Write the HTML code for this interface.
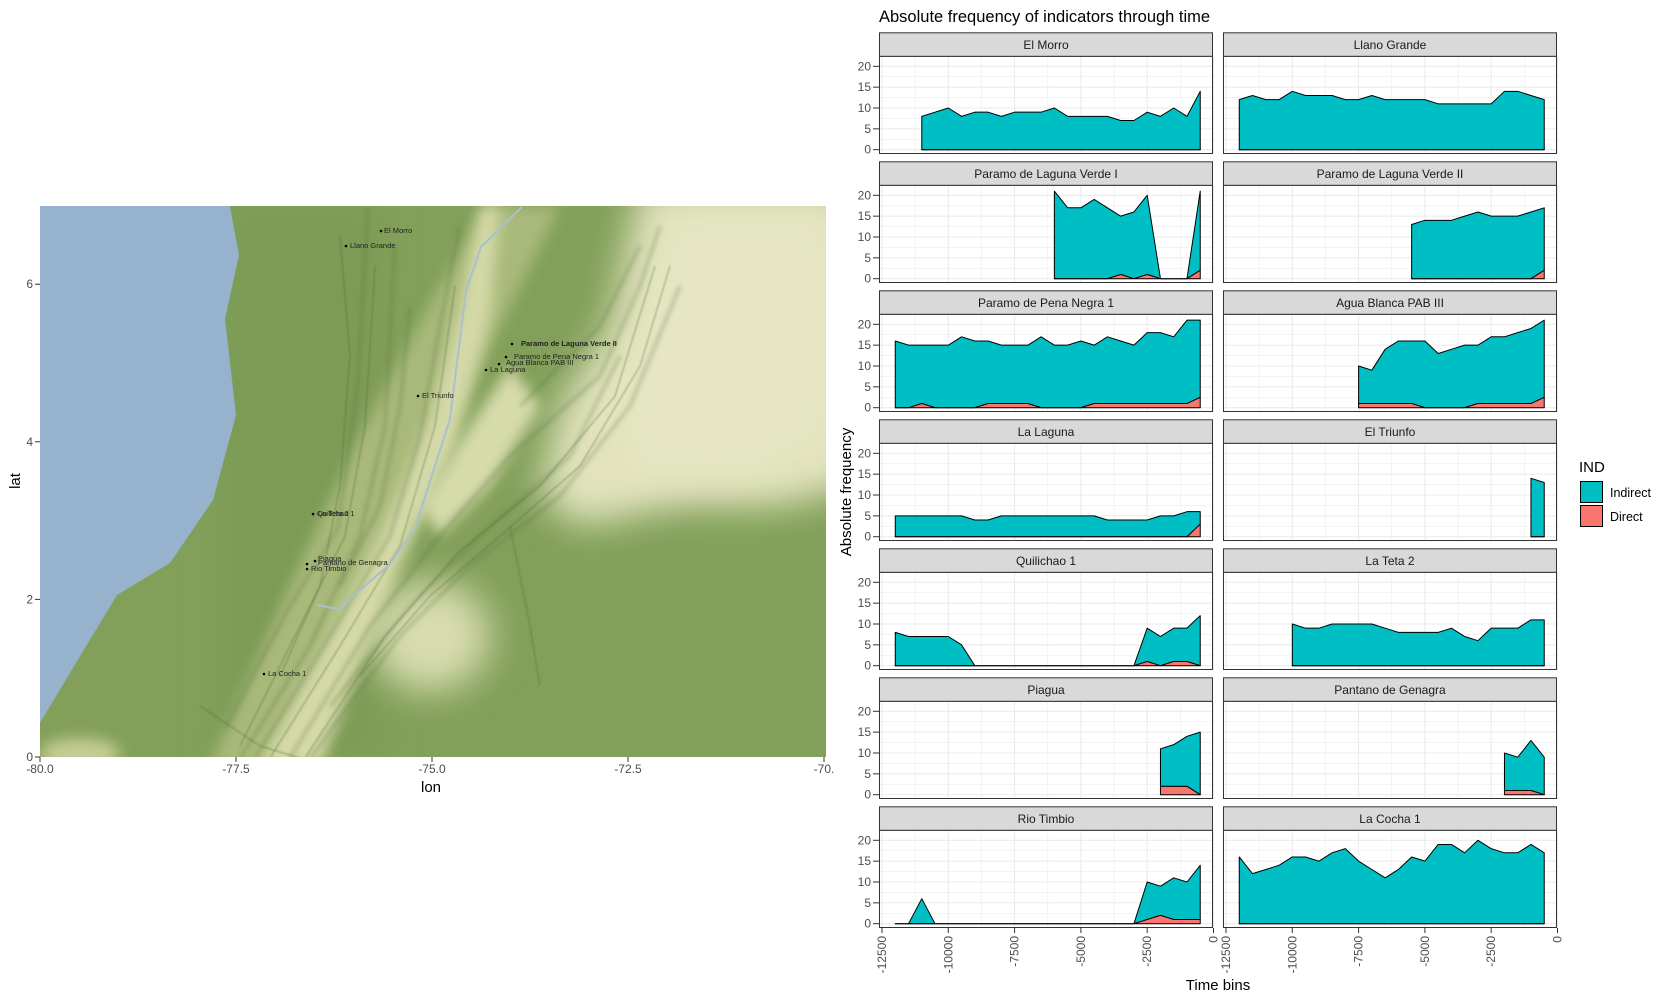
<!DOCTYPE html>
<html><head><meta charset="utf-8"><style>
html,body{margin:0;padding:0;background:#fff;}
svg{display:block;font-family:"Liberation Sans",Arial,sans-serif;}
</style></head><body>
<svg id="root" width="1665" height="1000" viewBox="0 0 1665 1000" xmlns="http://www.w3.org/2000/svg">
<defs>
<clipPath id="mapclip"><rect x="40" y="206" width="786" height="551"/></clipPath>
<filter id="b20" x="-50%" y="-50%" width="200%" height="200%"><feGaussianBlur stdDeviation="18"/></filter>
<filter id="b8" x="-50%" y="-50%" width="200%" height="200%"><feGaussianBlur stdDeviation="7"/></filter>
<filter id="b3" x="-50%" y="-50%" width="200%" height="200%"><feGaussianBlur stdDeviation="2"/></filter>
<filter id="b1"><feGaussianBlur stdDeviation="0.8"/></filter>
</defs>

<g>
<g clip-path="url(#mapclip)">
 <rect x="40" y="206" width="786" height="551" fill="#82a05a"/>
 <g transform="translate(40,206)">
  <rect x="180" y="0" width="160" height="552" fill="#7c9b55" filter="url(#b20)"/>
  <polygon points="600,-20 820,-20 820,280 740,300 640,300 540,320 500,290 520,200 570,120" fill="#e2e3bd" filter="url(#b20)"/>
  <polygon points="640,10 790,10 790,230 700,270 600,270 580,200" fill="#e6e6c4" filter="url(#b20)"/>
  <ellipse cx="390" cy="430" rx="60" ry="55" fill="#d8dcae" filter="url(#b20)"/>
  <ellipse cx="40" cy="548" rx="40" ry="16" fill="#c4cc94" filter="url(#b8)"/>
  <polygon points="170,560 250,380 320,230 400,80 450,0 520,0 460,120 390,270 310,430 250,560" fill="#a9b97a" filter="url(#b8)"/>
  <polygon points="220,560 290,430 345,320 390,210 420,100 440,0 460,0 450,110 415,240 360,360 280,560" fill="#d4d9a7" filter="url(#b8)"/>
  <polygon points="380,300 430,220 470,160 500,200 450,280 400,330" fill="#d6dbaa" filter="url(#b8)"/>
  <g stroke="#55703d" stroke-opacity="0.35" fill="none" filter="url(#b3)" stroke-width="3">
   <polyline points="185,523 250,400 298,322 318,176 328,1"/>
   <polyline points="215,552 290,430 350,330 380,230 400,120 420,20"/>
   <polyline points="250,552 330,420 400,330 470,250 560,170 600,80 620,20"/>
   <polyline points="270,552 360,430 430,360 520,290 590,200 640,80"/>
   <polyline points="300,380 340,300 360,200 370,100"/>
   <polyline points="480,200 560,120 600,40"/>
   <polyline points="200,552 270,440 320,330 345,220 355,40"/>
   <polyline points="290,500 370,400 450,320 530,250 580,150"/>
  </g>
  <g stroke="#4a6335" stroke-opacity="0.4" fill="none" filter="url(#b1)" stroke-width="1.3">
   <polyline points="200,540 260,420 305,330 325,220 335,60"/>
   <polyline points="230,552 300,440 360,340 395,220 415,80"/>
   <polyline points="265,552 345,430 420,345 500,280 575,190 615,60"/>
   <polyline points="240,470 280,380 300,280 310,150 300,30"/>
   <polyline points="320,470 390,390 460,330 540,260 600,160 630,60"/>
   <polyline points="470,320 490,420 500,480"/>
   <polyline points="160,500 220,540 260,552"/>
  </g>
  <polygon points="-10,-10 188,-10 199,49 185,113 196,209 173,294 130,357 77,389 45,442 0,517 -10,517" fill="#97b2cc"/>
  <polyline points="482,1 441,41 426,85 410,213 375,322 349,359 298,403 277,399" fill="none" stroke="#a9c1cf" stroke-width="2"/>
 </g>
 <g font-size="7.5" fill="#222">
  <circle cx="381" cy="231" r="1.3" fill="#000"/><text x="384" y="233">El Morro</text>
  <circle cx="346" cy="246" r="1.3" fill="#000"/><text x="350" y="248">Llano Grande</text>
  <circle cx="512" cy="344" r="1.3" fill="#000"/><text x="521" y="346" font-weight="bold">Paramo de Laguna Verde II</text>
  <circle cx="506" cy="357" r="1.3" fill="#000"/><text x="514" y="359">Paramo de Pena Negra 1</text>
  <circle cx="499" cy="364" r="1.3" fill="#000"/><text x="506" y="365">Agua Blanca PAB III</text>
  <circle cx="486" cy="370" r="1.3" fill="#000"/><text x="490" y="372">La Laguna</text>
  <circle cx="418" cy="396" r="1.3" fill="#000"/><text x="422" y="398">El Triunfo</text>
  <circle cx="313" cy="514" r="1.3" fill="#000"/><text x="317" y="516">Quilichao 1</text><text x="318" y="516">La Teta 2</text>
  <circle cx="315" cy="561" r="1.3" fill="#000"/><text x="318" y="561">Piagua</text><text x="318" y="565">Pantano de Genagra</text>
  <circle cx="307" cy="564" r="1.3" fill="#000"/>
  <circle cx="307" cy="569" r="1.3" fill="#000"/><text x="311" y="571">Rio Timbio</text>
  <circle cx="264" cy="674" r="1.3" fill="#000"/><text x="268" y="676">La Cocha 1</text>
 </g>
</g>
<g id="mapaxes" font-size="12" fill="#4d4d4d"></g>
<text x="431" y="792" font-size="15" text-anchor="middle" fill="#000">lon</text>
<text transform="translate(20,481) rotate(-90)" font-size="15" text-anchor="middle" fill="#000">lat</text>
</g>

<text x="879" y="22" font-size="16.5" fill="#000">Absolute frequency of indicators through time</text>
<g id="facets"></g>
<text transform="translate(851,492) rotate(-90)" font-size="15" text-anchor="middle" fill="#000">Absolute frequency</text>
<text x="1218" y="990" font-size="15" text-anchor="middle" fill="#000">Time bins</text>

<g>
 <text x="1579" y="472" font-size="15" fill="#000">IND</text>
 <g>
  <rect x="1580.5" y="481.5" width="22" height="21" fill="#00BFC4" stroke="#000" stroke-width="1"/>
  <text x="1610" y="497" font-size="12.5" fill="#000">Indirect</text>
 </g>
 <g>
  <rect x="1580.5" y="505.5" width="22" height="21" fill="#F8766D" stroke="#000" stroke-width="1"/>
  <text x="1610" y="521" font-size="12.5" fill="#000">Direct</text>
 </g>
</g>
</svg>
<script>
// ---- chart data ----
const siteNames = ["El Morro","Llano Grande","Paramo de Laguna Verde I","Paramo de Laguna Verde II","Paramo de Pena Negra 1","Agua Blanca PAB III","La Laguna","El Triunfo","Quilichao 1","La Teta 2","Piagua","Pantano de Genagra","Rio Timbio","La Cocha 1"];
const startBins = [-11000,-12000,-6000,-5500,-12000,-7500,-12000,-1000,-12000,-10000,-2000,-2000,-12000,-12000];
const binWidth = 500;
const totalCounts = [
 [8,9,10,8,9,9,8,9,9,9,10,8,8,8,8,7,7,9,8,10,8,14],
 [12,13,12,12,14,13,13,13,12,12,13,12,12,12,12,11,11,11,11,11,14,14,13,12],
 [21,17,17,19,17,15,16,20,0,0,0,21],
 [13,14,14,14,15,16,15,15,15,16,17],
 [16,15,15,15,15,17,16,16,15,15,15,17,15,15,16,15,17,16,15,18,18,17,21,21],
 [10,9,14,16,16,16,13,14,15,15,17,17,18,19,21],
 [5,5,5,5,5,5,4,4,5,5,5,5,5,5,5,5,4,4,4,4,5,5,6,6],
 [14,13],
 [8,7,7,7,7,5,0,0,0,0,0,0,0,0,0,0,0,0,0,9,7,9,9,12],
 [10,9,9,10,10,10,10,9,8,8,8,8,9,7,6,9,9,9,11,11],
 [11,12,14,15],
 [10,9,13,9],
 [0,0,6,0,0,0,0,0,0,0,0,0,0,0,0,0,0,0,0,10,9,11,10,14],
 [16,12,13,14,16,16,15,17,18,15,13,11,13,16,15,19,19,17,20,18,17,17,19,17]
];
const directCounts = [
 [0,0,0,0,0,0,0,0,0,0,0,0,0,0,0,0,0,0,0,0,0,0],
 [0,0,0,0,0,0,0,0,0,0,0,0,0,0,0,0,0,0,0,0,0,0,0,0],
 [0,0,0,0,0,1,0,1,0,0,0,2],
 [0,0,0,0,0,0,0,0,0,0,2],
 [0,0,1,0,0,0,0,1,1,1,1,0,0,0,0,1,1,1,1,1,1,1,1,2.5],
 [1,1,1,1,1,0,0,0,0,1,1,1,1,1,2.5],
 [0,0,0,0,0,0,0,0,0,0,0,0,0,0,0,0,0,0,0,0,0,0,0,3],
 [0,0],
 [0,0,0,0,0,0,0,0,0,0,0,0,0,0,0,0,0,0,0,1,0,1,1,0],
 [0,0,0,0,0,0,0,0,0,0,0,0,0,0,0,0,0,0,0,0],
 [2,2,2,0],
 [1,1,1,0],
 [0,0,0,0,0,0,0,0,0,0,0,0,0,0,0,0,0,0,0,1,2,1,1,1],
 [0,0,0,0,0,0,0,0,0,0,0,0,0,0,0,0,0,0,0,0,0,0,0,0]
];
const xTicks = [-12500,-10000,-7500,-5000,-2500,0];
const xTickLabels = ["-12500","-10000","-7500","-5000","-2500","0"];
const yTicks = [0,5,10,15,20];
const lonTicks = [-80,-77.5,-75,-72.5,-70];
const lonLabels = ["-80.0","-77.5","-75.0","-72.5","-70."];
const latTicks = [0,2,4,6];

const NS = "http://www.w3.org/2000/svg";
function mk(tag, attrs, parent){const e=document.createElementNS(NS,tag);for(const k in attrs)e.setAttribute(k,attrs[k]);parent.appendChild(e);return e;}

// map axes
const mapAxes=document.getElementById('mapaxes');
const lonX=v=>40+(v+80)*196/2.5;
const latY=v=>757-v*157.6/2;
lonTicks.forEach((v,i)=>{
  const t=mk('line',{x1:lonX(v),x2:lonX(v),y1:757,y2:762,stroke:'#333'},mapAxes);
  
  
  const tx=mk('text',{x:lonX(v),y:773,'text-anchor':'middle'},mapAxes);
  tx.textContent=lonLabels[i];
  
  
});
latTicks.forEach(v=>{
  const t=mk('line',{x1:35,x2:40,y1:latY(v),y2:latY(v),stroke:'#333'},mapAxes);
  
  
  const tx=mk('text',{x:33,y:latY(v)+4,'text-anchor':'end'},mapAxes);
  tx.textContent=String(v);
  
  
});

// facets
const facets=document.getElementById('facets');
const colLeft=[879,1223], panelW=334, rowPitch=129;
siteNames.forEach((name,i)=>{
  const r=Math.floor(i/2), c=i%2;
  const L=colLeft[c], stripTop=32.3+r*rowPitch, pTop=56.3+r*rowPitch, pBot=154+r*rowPitch;
  const xs=v=>L+3+(v+12500)*66.3/2500;
  const ys=v=>pBot-4.3-v*4.17;
  const g=mk('g',{},facets);
  
  
  mk('rect',{x:L,y:pTop,width:panelW,height:pBot-pTop,fill:'#fff'},g);
  for(let v=-12500;v<=0;v+=1250){
    const major=(v%2500===0);
    mk('line',{x1:xs(v),x2:xs(v),y1:pTop,y2:pBot,stroke:'#ebebeb','stroke-width':major?1.1:0.55},g);
  }
  for(let v=0;v<=22;v+=2.5){
    const major=(v%5===0);
    mk('line',{x1:L,x2:L+panelW,y1:ys(v),y2:ys(v),stroke:'#ebebeb','stroke-width':major?1.1:0.55},g);
  }
  const tot=totalCounts[i], dir=directCounts[i], s=startBins[i];
  const xv=k=>xs(s+k*binWidth);
  let pts=[];
  for(let k=0;k<tot.length;k++) pts.push(xv(k)+','+ys(tot[k]));
  for(let k=tot.length-1;k>=0;k--) pts.push(xv(k)+','+ys(dir[k]));
  const a=mk('polygon',{points:pts.join(' '),fill:'#00BFC4',stroke:'#000','stroke-width':1,'stroke-linejoin':'round'},g);
  
  
  let dp=[];
  for(let k=0;k<dir.length;k++) dp.push(xv(k)+','+ys(dir[k]));
  for(let k=dir.length-1;k>=0;k--) dp.push(xv(k)+','+ys(0));
  const d=mk('polygon',{points:dp.join(' '),fill:'#F8766D',stroke:'#000','stroke-width':1,'stroke-linejoin':'round'},g);
  
  
  mk('rect',{x:L+0.5,y:pTop,width:panelW-1,height:pBot-pTop-0.5,fill:'none',stroke:'#333','stroke-width':1},g);
  const st=mk('rect',{x:L+0.5,y:stripTop+0.5,width:panelW-1,height:pTop-stripTop-0.5,fill:'#d9d9d9',stroke:'#333','stroke-width':1},g);
  
  
  const stt=mk('text',{x:L+panelW/2,y:stripTop+16.5,'text-anchor':'middle','font-size':12,fill:'#1a1a1a'},g);
  stt.textContent=name;
  
  
  if(c===0){
    yTicks.forEach(v=>{
      mk('line',{x1:L-6,x2:L,y1:ys(v),y2:ys(v),stroke:'#333'},g);
      const t=mk('text',{x:L-8,y:ys(v)+4,'text-anchor':'end','font-size':12,fill:'#4d4d4d'},g);
      t.textContent=String(v);
      
      
    });
  }
  if(r===6){
    xTicks.forEach((v,j)=>{
      mk('line',{x1:xs(v),x2:xs(v),y1:pBot,y2:pBot+5,stroke:'#333'},g);
      const t=mk('text',{transform:'translate('+(xs(v)+4)+','+(pBot+8)+') rotate(-90)','text-anchor':'end','font-size':12,fill:'#4d4d4d'},g);
      t.textContent=xTickLabels[j];
      
      
    });
  }
});
</script>
</body></html>
